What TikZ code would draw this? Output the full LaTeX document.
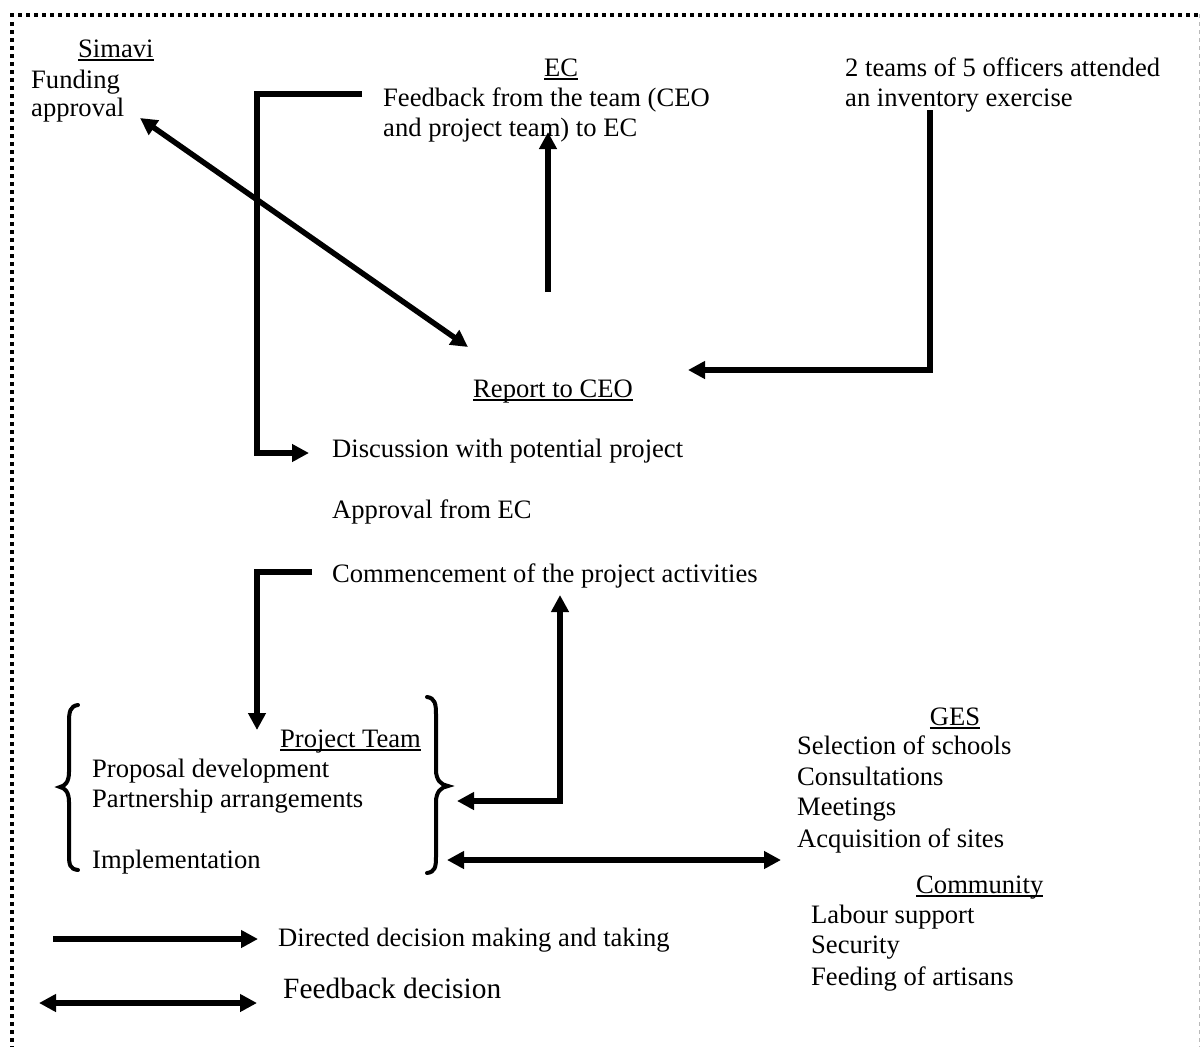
\documentclass[tikz,border=0pt]{standalone}
\usepackage{fontspec}
\setmainfont{Liberation Serif}
\usetikzlibrary{arrows.meta}

% underline at a fixed distance below the baseline, crossing descenders
\newcommand\uln[1]{\leavevmode\setbox0\hbox{#1}\rlap{\rule[-3.6pt]{\wd0}{1.7pt}}\box0}

\tikzset{
  lbl/.style={anchor=base west, inner sep=0pt, font=\fontsize{26.6}{30}\selectfont},
  head/.style={lbl, anchor=base},
  tip/.style={Triangle[length=17pt,width=17pt]},
  flow/.style={line width=5.5pt, -{Triangle[length=17pt,width=17pt]}},
  both/.style={line width=5.5pt, {Triangle[length=17pt,width=17pt]}-{Triangle[length=17pt,width=17pt]}},
  plain/.style={line width=5.5pt},
  brace/.style={line width=4pt, line cap=round},
  frame/.style={line width=4pt, dash pattern=on 4pt off 4pt},
  edge/.style={gray!55, line width=1pt, dash pattern=on 4pt off 4pt},
}

\begin{document}
\begin{tikzpicture}[x=1pt, y=-1pt]
\useasboundingbox (0,0) rectangle (1200,1047);

% dotted frame
\draw[frame] (10,14.5) -- (1200,14.5);
\draw[frame] (12,22) -- (12,1047);
\draw[edge] (1199,14) -- (1199,1047);

% Simavi
\node[lbl] (simavi) at (78,57) {\uln{Simavi}};
\node[lbl] (fund1) at (31,88) {Funding};
\node[lbl] (fund2) at (31,116) {approval};

% EC
\node[head] (ec) at (561,76) {\uln{EC}};
\node[lbl] (fb1) at (383,106) {Feedback from the team (CEO};
\node[lbl] (fb2) at (383,136) {and project team) to EC};

% inventory
\node[lbl] (inv1) at (845,76) {2 teams of 5 officers attended};
\node[lbl] (inv2) at (845,106) {an inventory exercise};

% CEO report
\node[lbl] (ceo) at (473,397) {\uln{Report to CEO}};

% sequence
\node[lbl] (disc) at (332,457) {Discussion with potential project};
\node[lbl] (appr) at (332,518) {Approval from EC};
\node[lbl] (comm) at (332,582) {Commencement of the project activities};

% project team
\node[lbl, anchor=base east] (pt) at (421,747) {\uln{Project Team}};
\node[lbl] (pt1) at (92,777) {Proposal development};
\node[lbl] (pt2) at (92,807) {Partnership arrangements};
\node[lbl] (pt3) at (92,868) {Implementation};

\draw[brace] (78,705) .. controls (70,706) and (69,712) .. (69,722) -- (69,772)
  .. controls (69,782) and (65,786) .. (60,787)
  .. controls (65,788) and (69,792) .. (69,802) -- (69,855)
  .. controls (69,865) and (70,869) .. (78,870);
\draw[brace] (427,697) .. controls (435,698) and (436,704) .. (436,714) -- (436,770)
  .. controls (436,780) and (441,785) .. (448,786)
  .. controls (441,787) and (436,792) .. (436,802) -- (436,857)
  .. controls (436,867) and (435,872) .. (427,873);

% GES
\node[head] (ges) at (955,725) {\uln{GES}};
\node[lbl] (g1) at (797,754) {Selection of schools};
\node[lbl] (g2) at (797,785) {Consultations};
\node[lbl] (g3) at (797,815) {Meetings};
\node[lbl] (g4) at (797,847) {Acquisition of sites};

% Community
\node[lbl] (cty) at (916,893) {\uln{Community}};
\node[lbl] (c1) at (811,923) {Labour support};
\node[lbl] (c2) at (811,953) {Security};
\node[lbl] (c3) at (811,985) {Feeding of artisans};

% legend
\node[lbl] (leg1) at (278,946) {Directed decision making and taking};
\node[lbl, font=\fontsize{29.4}{33}\selectfont] (leg2) at (283,998) {Feedback decision};

% connector end points
\coordinate (sA) at (140,118);
\coordinate (cA) at (468,347);
\coordinate (ecB) at (548,292);
\coordinate (ecT) at (548,132);
\coordinate (invT) at (930,110);
\coordinate (invC) at (930,370);
\coordinate (ceoR) at (688,370);
\coordinate (bTop) at (362,94);
\coordinate (bC1) at (257,94);
\coordinate (bC2) at (257,453);
\coordinate (discL) at (309,453);
\coordinate (cmL) at (312,572);
\coordinate (cmC) at (257,572);
\coordinate (ptT) at (257,730);
\coordinate (braceR) at (457,801);
\coordinate (upC) at (560,801);
\coordinate (comB) at (560,595);
\coordinate (braceR2) at (447,860);
\coordinate (gesL) at (781,860);
\coordinate (l1a) at (53,939);
\coordinate (l1b) at (258,939);
\coordinate (l2a) at (39,1003);
\coordinate (l2b) at (257,1003);

% connectors
\draw[both] (sA) -- (cA);
\draw[flow] (ecB) -- (ecT);
\draw[flow] (invT) -- (invC) -- (ceoR);
\draw[flow] (bTop) -- (bC1) -- (bC2) -- (discL);
\draw[flow] (cmL) -- (cmC) -- (ptT);
\draw[both] (braceR) -- (upC) -- (comB);
\draw[both] (braceR2) -- (gesL);
\draw[flow] (l1a) -- (l1b);
\draw[both] (l2a) -- (l2b);
\end{tikzpicture}
\end{document}
